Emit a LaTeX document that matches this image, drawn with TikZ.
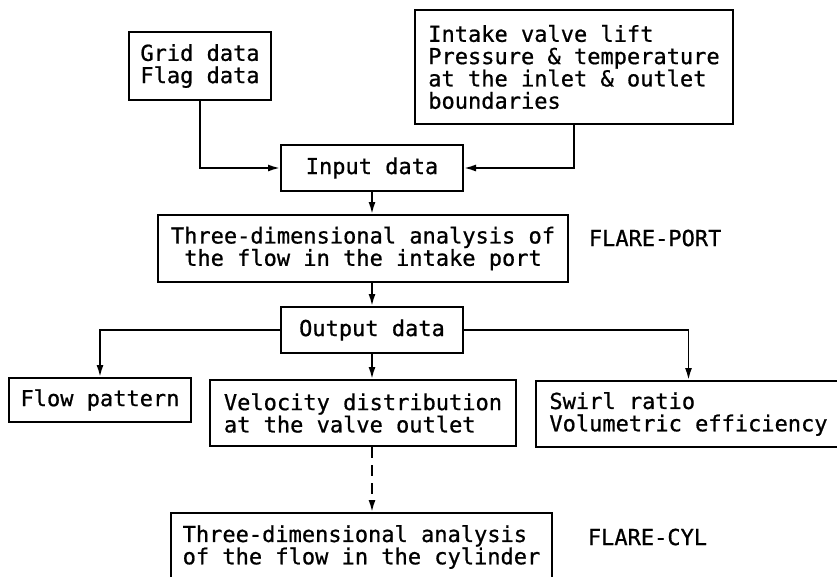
\documentclass[tikz,border=0pt]{standalone}
\usepackage{fontspec}
\setmonofont[FakeBold=0.8]{DejaVu Sans Mono}
\usetikzlibrary{arrows.meta}
\tikzset{>={Latex[length=12pt,width=7pt]}}
\tikzset{
  typed/.style={font=\ttfamily\fontsize{22}{22.3}\selectfont},
  box/.style={typed,draw,line width=2pt,inner sep=0pt},
  tag/.style={typed,anchor=west,inner sep=0pt}
}

\begin{document}
\begin{tikzpicture}[x=1pt,y=-1pt,line width=1.8pt]
    \useasboundingbox (0,0) rectangle (837,576);
    \node[box,minimum width=142pt,minimum height=68pt,align=left] (grid) at (200,66) {Grid data\\Flag data};
    \node[box,minimum width=318pt,minimum height=114pt,align=left] (intake) at (574,67) {Intake valve lift\\Pressure \& temperature\\at the inlet \& outlet\\boundaries};
    \node[box,minimum width=182pt,minimum height=46pt] (input) at (372,168) {Input data};
    \node[box,minimum width=410pt,minimum height=67pt,align=center] (port) at (363,248.5) {Three-dimensional analysis of\\the flow in the intake port};
    \node[tag] (portname) at (588,238) {FLARE-PORT};
    \node[box,minimum width=182pt,minimum height=46pt] (output) at (372,330) {Output data};
    \node[box,minimum width=182pt,minimum height=44pt] (flow) at (100,400) {Flow pattern};
    \node[box,minimum width=306pt,minimum height=66pt,align=left] (velocity) at (363,413) {Velocity distribution\\at the valve outlet};
    \node[box,minimum width=305pt,minimum height=66pt,align=left] (swirl) at (688.5,414) {Swirl ratio\\Volumetric efficiency};
    \node[box,minimum width=381pt,minimum height=68pt,align=left] (cyl) at (361.5,547) {Three-dimensional analysis\\of the flow in the cylinder};
    \node[tag] (cylname) at (587,537) {FLARE-CYL};
    \draw[->] (grid) |- (input);
    \draw[->] (intake) |- (input);
    \draw[->] (input) -- (input |- port.north);
    \draw[->] (output |- port.south) -- (output);
    \draw[->] (output) -| (flow);
    \draw[->] (output) -- (output |- velocity.north);
    \draw[->] (output) -| (swirl);
    \draw[->,dash pattern=on 11pt off 7pt] (output |- velocity.south) -- (output |- cyl.north);
\end{tikzpicture}
\end{document}
